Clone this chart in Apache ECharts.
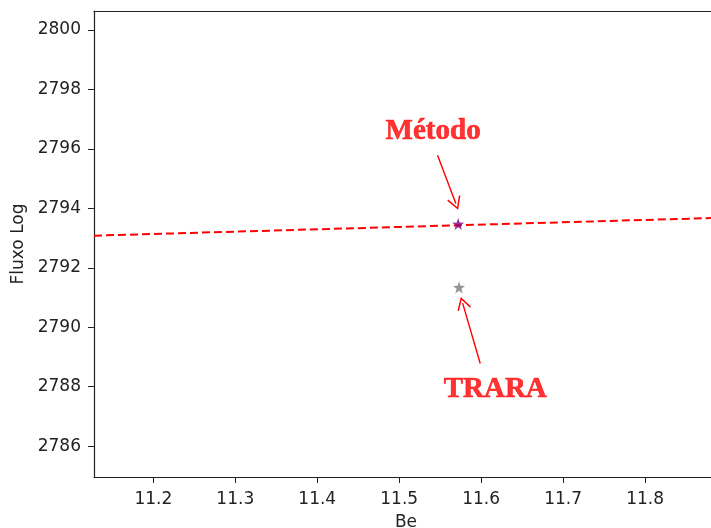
<!DOCTYPE html>
<html>
<head>
<meta charset="utf-8">
<script src="https://cdn.jsdelivr.net/npm/echarts@6/dist/echarts.min.js"></script>
<style>html,body{margin:0;padding:0;background:#fff;}#c{width:711px;height:528px;}</style>
</head>
<body>
<div id="c"></div>
<script>
// ---- data ----
const xTicks = [11.2, 11.3, 11.4, 11.5, 11.6, 11.7, 11.8];
const yTicks = [2786, 2788, 2790, 2792, 2794, 2796, 2798, 2800];
const xRange = [11.1276, 11.889];
const yRange = [2784.96, 2800.64];
const fitX = [11.1276, 11.889];
const fitY = [2793.08, 2793.68];
const metodoPoint = [11.572, 2793.47];
const traraPoint = [11.573, 2791.34];
const labelNames = ['Método', 'TRARA'];
const labelCoords = [[11.5414, 2796.6], [11.6172, 2787.90]];
const arrowFrom = [[11.5468, 2795.79], [11.5989, 2788.78]];
const arrowTo = [[11.5691, 2794.16], [11.5774, 2790.81]];

const starPath = 'path://M0,-10 L2.35,-3.24 L9.51,-3.09 L3.8,1.24 L5.88,8.09 L0,4 L-5.88,8.09 L-3.8,1.24 L-9.51,-3.09 L-2.35,-3.24 Z';
const headPath = 'path://M0,0 L6,10 L4.9,10.7 L0,2.4 L-4.9,10.7 L-6,10 Z';
const txt = '#222';
const font = 'DejaVu Sans';
const fs = 17;

const chart = echarts.init(document.getElementById('c'), null, {renderer: 'canvas'});
chart.setOption({
  animation: false,
  backgroundColor: '#fff',
  grid: {left: 94, top: 11, width: 624, height: 466, show: false, containLabel: false, outerBoundsMode: 'none'},
  xAxis: [{
    type: 'value', min: xRange[0], max: xRange[1],
    name: 'Be', nameLocation: 'middle', nameGap: 37,
    nameTextStyle: {color: txt, fontSize: fs, fontFamily: font},
    axisLine: {show: true, onZero: false, lineStyle: {color: '#222', width: 1.2}},
    axisTick: {show: true, length: 6, lineStyle: {color: '#222'}, customValues: xTicks},
    axisLabel: {color: txt, fontSize: fs, fontFamily: font, margin: 14, customValues: xTicks,
      formatter: v => v.toFixed(1)},
    splitLine: {show: false}
  }, {
    type: 'value', position: 'top', min: xRange[0], max: xRange[1],
    axisLine: {show: true, onZero: false, lineStyle: {color: '#222', width: 1.2}},
    axisTick: {show: false}, axisLabel: {show: false}, splitLine: {show: false}
  }],
  yAxis: {
    type: 'value', min: yRange[0], max: yRange[1],
    name: 'Fluxo Log', nameLocation: 'middle', nameGap: 66,
    nameTextStyle: {color: txt, fontSize: fs, fontFamily: font},
    axisLine: {show: true, onZero: false, lineStyle: {color: '#222', width: 1.2}},
    axisTick: {show: true, length: 6, lineStyle: {color: '#222'}, customValues: yTicks},
    axisLabel: {color: txt, fontSize: fs, fontFamily: font, margin: 13, customValues: yTicks,
      formatter: v => String(Math.round(v))},
    splitLine: {show: false}
  },
  series: [
    {
      type: 'line', data: fitX.map((x, i) => [x, fitY[i]]), symbol: 'none',
      lineStyle: {color: '#ff0000', width: 2, type: [8, 4]},
      z: 2
    },
    {
      type: 'scatter', data: [metodoPoint], symbol: starPath, symbolSize: 12,
      itemStyle: {color: '#800080'}, z: 3
    },
    {
      type: 'scatter', data: [traraPoint], symbol: starPath, symbolSize: 12,
      itemStyle: {color: '#7a7a7a'}, z: 3
    },
    {
      type: 'scatter', data: labelCoords.map((c, i) => ({value: c, name: labelNames[i]})),
      symbolSize: 0, silent: true, z: 4,
      label: {show: true, position: 'inside', formatter: p => p.name, color: '#ff0000',
        fontFamily: 'Liberation Serif', fontWeight: 'bold', fontSize: 29,
        textBorderColor: '#ff0000', textBorderWidth: 0.6},
      markLine: {
        silent: true, symbol: ['none', headPath], symbolSize: [14, 13],
        lineStyle: {color: '#ff0000', width: 1.4, type: 'solid'},
        label: {show: false},
        data: arrowFrom.map((f, i) => [{coord: f}, {coord: arrowTo[i]}])
      }
    }
  ]
});
</script>
</body>
</html>
